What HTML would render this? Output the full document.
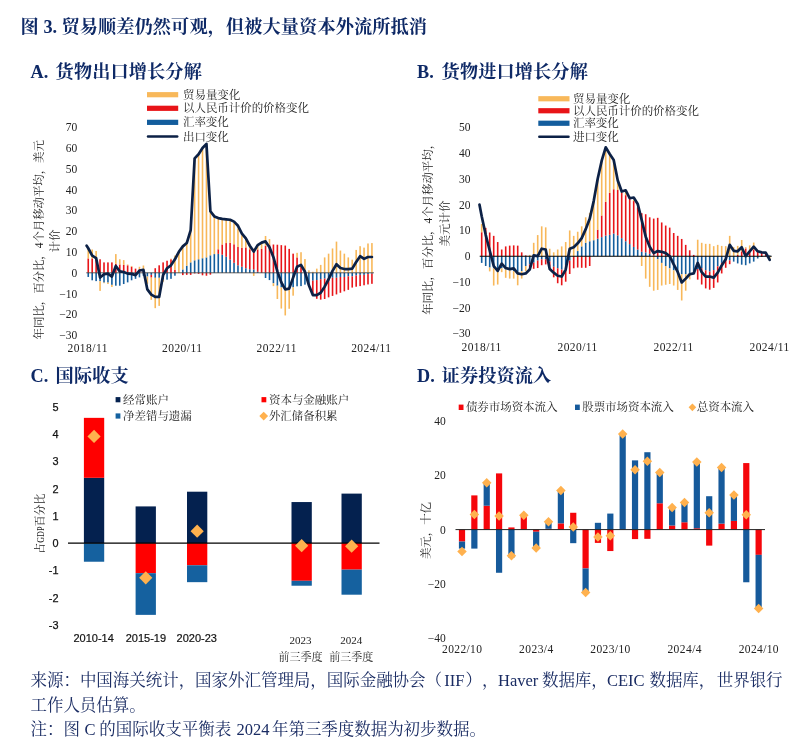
<!DOCTYPE html>
<html lang="zh"><head><meta charset="utf-8"><title>图 3</title>
<style>
html,body{margin:0;padding:0;background:#fff;}
body{width:800px;height:752px;overflow:hidden;font-family:"Liberation Serif",serif;}
svg{display:block;will-change:transform}
</style></head><body>
<svg width="800" height="752" viewBox="0 0 800 752">
<rect width="800" height="752" fill="#ffffff"/>
<text x="20.50" y="32.60" font-size="18.20" font-family="'Liberation Serif', 'Noto Serif CJK SC', serif" font-weight="bold" fill="#0e2966" textLength="18.20" lengthAdjust="spacing">图</text>
<text x="43.50" y="32.60" font-size="18.20" text-anchor="start" font-family="Liberation Serif, serif" font-weight="bold" fill="#0e2966" >3.</text>
<text x="61.40" y="32.60" font-size="18.20" font-family="'Liberation Serif', 'Noto Serif CJK SC', serif" font-weight="bold" fill="#0e2966" textLength="365.60" lengthAdjust="spacing">贸易顺差仍然可观，但被大量资本外流所抵消</text>
<text x="30.50" y="78.40" font-size="18.20" text-anchor="start" font-family="Liberation Serif, serif" font-weight="bold" fill="#0e2966" >A.</text>
<text x="55.60" y="78.40" font-size="18.20" font-family="'Liberation Serif', 'Noto Serif CJK SC', serif" font-weight="bold" fill="#0e2966" textLength="146.24" lengthAdjust="spacing">货物出口增长分解</text>
<text x="417.00" y="78.40" font-size="18.20" text-anchor="start" font-family="Liberation Serif, serif" font-weight="bold" fill="#0e2966" >B.</text>
<text x="441.60" y="78.40" font-size="18.20" font-family="'Liberation Serif', 'Noto Serif CJK SC', serif" font-weight="bold" fill="#0e2966" textLength="146.24" lengthAdjust="spacing">货物进口增长分解</text>
<text x="30.50" y="382.40" font-size="18.20" text-anchor="start" font-family="Liberation Serif, serif" font-weight="bold" fill="#0e2966" >C.</text>
<text x="55.60" y="382.40" font-size="18.20" font-family="'Liberation Serif', 'Noto Serif CJK SC', serif" font-weight="bold" fill="#0e2966" textLength="73.12" lengthAdjust="spacing">国际收支</text>
<text x="417.00" y="382.40" font-size="18.20" text-anchor="start" font-family="Liberation Serif, serif" font-weight="bold" fill="#0e2966" >D.</text>
<text x="441.60" y="382.40" font-size="18.20" font-family="'Liberation Serif', 'Noto Serif CJK SC', serif" font-weight="bold" fill="#0e2966" textLength="109.68" lengthAdjust="spacing">证券投资流入</text>
<g id="pa">
<rect x="87.45" y="272.80" width="1.60" height="4.16" fill="#135d9d"/>
<rect x="87.45" y="258.45" width="1.60" height="14.35" fill="#e81418"/>
<rect x="87.45" y="247.84" width="1.60" height="10.61" fill="#f8b85a"/>
<rect x="91.39" y="272.80" width="1.60" height="7.49" fill="#135d9d"/>
<rect x="91.39" y="258.45" width="1.60" height="14.35" fill="#e81418"/>
<rect x="91.39" y="249.50" width="1.60" height="8.94" fill="#f8b85a"/>
<rect x="95.33" y="272.80" width="1.60" height="8.32" fill="#135d9d"/>
<rect x="95.33" y="259.28" width="1.60" height="13.52" fill="#e81418"/>
<rect x="95.33" y="250.96" width="1.60" height="8.32" fill="#f8b85a"/>
<rect x="99.27" y="272.80" width="1.60" height="8.32" fill="#135d9d"/>
<rect x="99.27" y="259.28" width="1.60" height="13.52" fill="#e81418"/>
<rect x="99.27" y="281.12" width="1.60" height="9.78" fill="#f8b85a"/>
<rect x="103.21" y="272.80" width="1.60" height="9.78" fill="#135d9d"/>
<rect x="103.21" y="262.40" width="1.60" height="10.40" fill="#e81418"/>
<rect x="103.21" y="282.58" width="1.60" height="0.62" fill="#f8b85a"/>
<rect x="107.15" y="272.80" width="1.60" height="9.78" fill="#135d9d"/>
<rect x="107.15" y="262.40" width="1.60" height="10.40" fill="#e81418"/>
<rect x="107.15" y="282.58" width="1.60" height="1.46" fill="#f8b85a"/>
<rect x="111.09" y="272.80" width="1.60" height="12.06" fill="#135d9d"/>
<rect x="111.09" y="262.40" width="1.60" height="10.40" fill="#e81418"/>
<rect x="111.09" y="284.86" width="1.60" height="2.08" fill="#f8b85a"/>
<rect x="115.03" y="272.80" width="1.60" height="12.90" fill="#135d9d"/>
<rect x="115.03" y="263.86" width="1.60" height="8.94" fill="#e81418"/>
<rect x="115.03" y="254.08" width="1.60" height="9.78" fill="#f8b85a"/>
<rect x="118.97" y="272.80" width="1.60" height="12.90" fill="#135d9d"/>
<rect x="118.97" y="264.48" width="1.60" height="8.32" fill="#e81418"/>
<rect x="118.97" y="259.28" width="1.60" height="5.20" fill="#f8b85a"/>
<rect x="122.91" y="272.80" width="1.60" height="11.23" fill="#135d9d"/>
<rect x="122.91" y="264.90" width="1.60" height="7.90" fill="#e81418"/>
<rect x="122.91" y="260.11" width="1.60" height="4.78" fill="#f8b85a"/>
<rect x="126.85" y="272.80" width="1.60" height="9.57" fill="#135d9d"/>
<rect x="126.85" y="265.31" width="1.60" height="7.49" fill="#e81418"/>
<rect x="126.85" y="264.48" width="1.60" height="0.83" fill="#f8b85a"/>
<rect x="130.79" y="272.80" width="1.60" height="7.49" fill="#135d9d"/>
<rect x="130.79" y="266.77" width="1.60" height="6.03" fill="#e81418"/>
<rect x="130.79" y="265.94" width="1.60" height="0.83" fill="#f8b85a"/>
<rect x="134.73" y="272.80" width="1.60" height="6.03" fill="#135d9d"/>
<rect x="134.73" y="268.64" width="1.60" height="4.16" fill="#e81418"/>
<rect x="138.67" y="272.80" width="1.60" height="4.58" fill="#135d9d"/>
<rect x="138.67" y="269.26" width="1.60" height="3.54" fill="#e81418"/>
<rect x="138.67" y="266.77" width="1.60" height="2.50" fill="#f8b85a"/>
<rect x="142.61" y="272.80" width="1.60" height="2.91" fill="#135d9d"/>
<rect x="142.61" y="270.72" width="1.60" height="2.08" fill="#e81418"/>
<rect x="142.61" y="265.52" width="1.60" height="5.20" fill="#f8b85a"/>
<rect x="146.55" y="272.80" width="1.60" height="3.74" fill="#135d9d"/>
<rect x="146.55" y="276.54" width="1.60" height="7.28" fill="#f8b85a"/>
<rect x="150.49" y="272.80" width="1.60" height="2.08" fill="#135d9d"/>
<rect x="150.49" y="274.88" width="1.60" height="2.70" fill="#e81418"/>
<rect x="150.49" y="277.58" width="1.60" height="22.26" fill="#f8b85a"/>
<rect x="154.43" y="272.80" width="1.60" height="4.99" fill="#135d9d"/>
<rect x="154.43" y="268.22" width="1.60" height="4.58" fill="#e81418"/>
<rect x="154.43" y="277.79" width="1.60" height="30.37" fill="#f8b85a"/>
<rect x="158.37" y="272.80" width="1.60" height="4.99" fill="#135d9d"/>
<rect x="158.37" y="265.31" width="1.60" height="7.49" fill="#e81418"/>
<rect x="158.37" y="277.79" width="1.60" height="28.08" fill="#f8b85a"/>
<rect x="162.31" y="272.80" width="1.60" height="6.86" fill="#135d9d"/>
<rect x="162.31" y="262.40" width="1.60" height="10.40" fill="#e81418"/>
<rect x="162.31" y="279.66" width="1.60" height="2.08" fill="#f8b85a"/>
<rect x="166.25" y="272.80" width="1.60" height="6.86" fill="#135d9d"/>
<rect x="166.25" y="260.74" width="1.60" height="12.06" fill="#e81418"/>
<rect x="170.19" y="272.80" width="1.60" height="6.03" fill="#135d9d"/>
<rect x="170.19" y="259.28" width="1.60" height="13.52" fill="#e81418"/>
<rect x="170.19" y="258.66" width="1.60" height="0.62" fill="#f8b85a"/>
<rect x="174.13" y="272.80" width="1.60" height="2.91" fill="#135d9d"/>
<rect x="174.13" y="269.89" width="1.60" height="2.91" fill="#e81418"/>
<rect x="174.13" y="255.54" width="1.60" height="14.35" fill="#f8b85a"/>
<rect x="178.07" y="250.96" width="1.60" height="21.84" fill="#f8b85a"/>
<rect x="182.01" y="269.47" width="1.60" height="3.33" fill="#135d9d"/>
<rect x="182.01" y="272.80" width="1.60" height="2.29" fill="#e81418"/>
<rect x="182.01" y="246.59" width="1.60" height="22.88" fill="#f8b85a"/>
<rect x="185.95" y="265.73" width="1.60" height="7.07" fill="#135d9d"/>
<rect x="185.95" y="272.80" width="1.60" height="2.08" fill="#e81418"/>
<rect x="185.95" y="241.81" width="1.60" height="23.92" fill="#f8b85a"/>
<rect x="189.89" y="262.40" width="1.60" height="10.40" fill="#135d9d"/>
<rect x="189.89" y="272.80" width="1.60" height="2.08" fill="#e81418"/>
<rect x="189.89" y="229.12" width="1.60" height="33.28" fill="#f8b85a"/>
<rect x="193.83" y="260.32" width="1.60" height="12.48" fill="#135d9d"/>
<rect x="193.83" y="272.80" width="1.60" height="0.62" fill="#e81418"/>
<rect x="193.83" y="158.19" width="1.60" height="102.13" fill="#f8b85a"/>
<rect x="197.77" y="259.28" width="1.60" height="13.52" fill="#135d9d"/>
<rect x="197.77" y="272.80" width="1.60" height="1.04" fill="#e81418"/>
<rect x="197.77" y="154.86" width="1.60" height="104.42" fill="#f8b85a"/>
<rect x="201.71" y="258.24" width="1.60" height="14.56" fill="#135d9d"/>
<rect x="201.71" y="272.80" width="1.60" height="2.50" fill="#e81418"/>
<rect x="201.71" y="148.00" width="1.60" height="110.24" fill="#f8b85a"/>
<rect x="205.65" y="257.41" width="1.60" height="15.39" fill="#135d9d"/>
<rect x="205.65" y="272.80" width="1.60" height="2.91" fill="#e81418"/>
<rect x="205.65" y="144.05" width="1.60" height="113.36" fill="#f8b85a"/>
<rect x="209.59" y="255.33" width="1.60" height="17.47" fill="#135d9d"/>
<rect x="209.59" y="272.80" width="1.60" height="1.87" fill="#e81418"/>
<rect x="209.59" y="211.02" width="1.60" height="44.30" fill="#f8b85a"/>
<rect x="213.53" y="254.08" width="1.60" height="18.72" fill="#135d9d"/>
<rect x="213.53" y="216.02" width="1.60" height="38.06" fill="#f8b85a"/>
<rect x="217.47" y="253.87" width="1.60" height="18.93" fill="#135d9d"/>
<rect x="217.47" y="249.30" width="1.60" height="4.58" fill="#e81418"/>
<rect x="217.47" y="217.89" width="1.60" height="31.41" fill="#f8b85a"/>
<rect x="221.41" y="254.70" width="1.60" height="18.10" fill="#135d9d"/>
<rect x="221.41" y="244.51" width="1.60" height="10.19" fill="#e81418"/>
<rect x="221.41" y="218.93" width="1.60" height="25.58" fill="#f8b85a"/>
<rect x="225.35" y="256.78" width="1.60" height="16.02" fill="#135d9d"/>
<rect x="225.35" y="243.06" width="1.60" height="13.73" fill="#e81418"/>
<rect x="225.35" y="219.76" width="1.60" height="23.30" fill="#f8b85a"/>
<rect x="229.29" y="259.70" width="1.60" height="13.10" fill="#135d9d"/>
<rect x="229.29" y="242.85" width="1.60" height="16.85" fill="#e81418"/>
<rect x="229.29" y="220.38" width="1.60" height="22.46" fill="#f8b85a"/>
<rect x="233.23" y="262.82" width="1.60" height="9.98" fill="#135d9d"/>
<rect x="233.23" y="244.30" width="1.60" height="18.51" fill="#e81418"/>
<rect x="233.23" y="222.88" width="1.60" height="21.42" fill="#f8b85a"/>
<rect x="237.17" y="265.31" width="1.60" height="7.49" fill="#135d9d"/>
<rect x="237.17" y="247.01" width="1.60" height="18.30" fill="#e81418"/>
<rect x="237.17" y="228.50" width="1.60" height="18.51" fill="#f8b85a"/>
<rect x="241.11" y="266.77" width="1.60" height="6.03" fill="#135d9d"/>
<rect x="241.11" y="247.84" width="1.60" height="18.93" fill="#e81418"/>
<rect x="241.11" y="235.15" width="1.60" height="12.69" fill="#f8b85a"/>
<rect x="245.05" y="268.22" width="1.60" height="4.58" fill="#135d9d"/>
<rect x="245.05" y="247.42" width="1.60" height="20.80" fill="#e81418"/>
<rect x="245.05" y="240.14" width="1.60" height="7.28" fill="#f8b85a"/>
<rect x="248.99" y="269.26" width="1.60" height="3.54" fill="#135d9d"/>
<rect x="248.99" y="249.30" width="1.60" height="19.97" fill="#e81418"/>
<rect x="248.99" y="246.38" width="1.60" height="2.91" fill="#f8b85a"/>
<rect x="252.93" y="269.47" width="1.60" height="3.33" fill="#135d9d"/>
<rect x="252.93" y="248.88" width="1.60" height="20.59" fill="#e81418"/>
<rect x="252.93" y="272.80" width="1.60" height="3.12" fill="#f8b85a"/>
<rect x="256.87" y="271.76" width="1.60" height="1.04" fill="#135d9d"/>
<rect x="256.87" y="249.50" width="1.60" height="22.26" fill="#e81418"/>
<rect x="256.87" y="245.14" width="1.60" height="4.37" fill="#f8b85a"/>
<rect x="260.81" y="248.88" width="1.60" height="23.92" fill="#e81418"/>
<rect x="260.81" y="242.64" width="1.60" height="6.24" fill="#f8b85a"/>
<rect x="264.75" y="272.80" width="1.60" height="5.20" fill="#135d9d"/>
<rect x="264.75" y="245.76" width="1.60" height="27.04" fill="#e81418"/>
<rect x="264.75" y="235.98" width="1.60" height="9.78" fill="#f8b85a"/>
<rect x="268.69" y="272.80" width="1.60" height="7.28" fill="#135d9d"/>
<rect x="268.69" y="244.72" width="1.60" height="28.08" fill="#e81418"/>
<rect x="268.69" y="239.10" width="1.60" height="5.62" fill="#f8b85a"/>
<rect x="272.63" y="272.80" width="1.60" height="10.40" fill="#135d9d"/>
<rect x="272.63" y="244.51" width="1.60" height="28.29" fill="#e81418"/>
<rect x="272.63" y="283.20" width="1.60" height="2.91" fill="#f8b85a"/>
<rect x="276.57" y="272.80" width="1.60" height="12.90" fill="#135d9d"/>
<rect x="276.57" y="244.72" width="1.60" height="28.08" fill="#e81418"/>
<rect x="276.57" y="285.70" width="1.60" height="13.31" fill="#f8b85a"/>
<rect x="280.51" y="272.80" width="1.60" height="14.56" fill="#135d9d"/>
<rect x="280.51" y="245.14" width="1.60" height="27.66" fill="#e81418"/>
<rect x="280.51" y="287.36" width="1.60" height="21.22" fill="#f8b85a"/>
<rect x="284.45" y="272.80" width="1.60" height="15.60" fill="#135d9d"/>
<rect x="284.45" y="245.55" width="1.60" height="27.25" fill="#e81418"/>
<rect x="284.45" y="288.40" width="1.60" height="27.04" fill="#f8b85a"/>
<rect x="288.39" y="272.80" width="1.60" height="15.60" fill="#135d9d"/>
<rect x="288.39" y="248.88" width="1.60" height="23.92" fill="#e81418"/>
<rect x="288.39" y="288.40" width="1.60" height="20.38" fill="#f8b85a"/>
<rect x="292.33" y="272.80" width="1.60" height="14.56" fill="#135d9d"/>
<rect x="292.33" y="253.66" width="1.60" height="19.14" fill="#e81418"/>
<rect x="292.33" y="287.36" width="1.60" height="8.32" fill="#f8b85a"/>
<rect x="296.27" y="272.80" width="1.60" height="13.52" fill="#135d9d"/>
<rect x="296.27" y="257.41" width="1.60" height="15.39" fill="#e81418"/>
<rect x="296.27" y="252.83" width="1.60" height="4.58" fill="#f8b85a"/>
<rect x="300.21" y="272.80" width="1.60" height="13.31" fill="#135d9d"/>
<rect x="300.21" y="265.73" width="1.60" height="7.07" fill="#e81418"/>
<rect x="300.21" y="252.21" width="1.60" height="13.52" fill="#f8b85a"/>
<rect x="304.15" y="272.80" width="1.60" height="11.86" fill="#135d9d"/>
<rect x="304.15" y="270.30" width="1.60" height="2.50" fill="#e81418"/>
<rect x="304.15" y="259.07" width="1.60" height="11.23" fill="#f8b85a"/>
<rect x="308.09" y="272.80" width="1.60" height="10.19" fill="#135d9d"/>
<rect x="308.09" y="282.99" width="1.60" height="2.29" fill="#e81418"/>
<rect x="308.09" y="270.30" width="1.60" height="2.50" fill="#f8b85a"/>
<rect x="312.03" y="272.80" width="1.60" height="7.90" fill="#135d9d"/>
<rect x="312.03" y="280.70" width="1.60" height="14.98" fill="#e81418"/>
<rect x="312.03" y="271.76" width="1.60" height="1.04" fill="#f8b85a"/>
<rect x="315.97" y="272.80" width="1.60" height="7.28" fill="#135d9d"/>
<rect x="315.97" y="280.08" width="1.60" height="18.72" fill="#e81418"/>
<rect x="315.97" y="268.64" width="1.60" height="4.16" fill="#f8b85a"/>
<rect x="319.91" y="272.80" width="1.60" height="6.45" fill="#135d9d"/>
<rect x="319.91" y="279.25" width="1.60" height="20.38" fill="#e81418"/>
<rect x="319.91" y="264.90" width="1.60" height="7.90" fill="#f8b85a"/>
<rect x="323.85" y="272.80" width="1.60" height="5.82" fill="#135d9d"/>
<rect x="323.85" y="278.62" width="1.60" height="20.38" fill="#e81418"/>
<rect x="323.85" y="257.41" width="1.60" height="15.39" fill="#f8b85a"/>
<rect x="327.79" y="272.80" width="1.60" height="4.99" fill="#135d9d"/>
<rect x="327.79" y="277.79" width="1.60" height="19.55" fill="#e81418"/>
<rect x="327.79" y="253.66" width="1.60" height="19.14" fill="#f8b85a"/>
<rect x="331.73" y="272.80" width="1.60" height="4.99" fill="#135d9d"/>
<rect x="331.73" y="277.79" width="1.60" height="18.10" fill="#e81418"/>
<rect x="331.73" y="248.46" width="1.60" height="24.34" fill="#f8b85a"/>
<rect x="335.67" y="272.80" width="1.60" height="4.99" fill="#135d9d"/>
<rect x="335.67" y="277.79" width="1.60" height="16.64" fill="#e81418"/>
<rect x="335.67" y="241.60" width="1.60" height="31.20" fill="#f8b85a"/>
<rect x="339.61" y="272.80" width="1.60" height="4.16" fill="#135d9d"/>
<rect x="339.61" y="276.96" width="1.60" height="15.81" fill="#e81418"/>
<rect x="339.61" y="250.54" width="1.60" height="22.26" fill="#f8b85a"/>
<rect x="343.55" y="272.80" width="1.60" height="4.16" fill="#135d9d"/>
<rect x="343.55" y="276.96" width="1.60" height="14.35" fill="#e81418"/>
<rect x="343.55" y="253.66" width="1.60" height="19.14" fill="#f8b85a"/>
<rect x="347.49" y="272.80" width="1.60" height="3.54" fill="#135d9d"/>
<rect x="347.49" y="276.34" width="1.60" height="13.52" fill="#e81418"/>
<rect x="347.49" y="257.41" width="1.60" height="15.39" fill="#f8b85a"/>
<rect x="351.43" y="272.80" width="1.60" height="3.54" fill="#135d9d"/>
<rect x="351.43" y="276.34" width="1.60" height="11.23" fill="#e81418"/>
<rect x="351.43" y="259.70" width="1.60" height="13.10" fill="#f8b85a"/>
<rect x="355.37" y="272.80" width="1.60" height="2.70" fill="#135d9d"/>
<rect x="355.37" y="275.50" width="1.60" height="11.23" fill="#e81418"/>
<rect x="355.37" y="249.92" width="1.60" height="22.88" fill="#f8b85a"/>
<rect x="359.31" y="272.80" width="1.60" height="2.08" fill="#135d9d"/>
<rect x="359.31" y="274.88" width="1.60" height="11.23" fill="#e81418"/>
<rect x="359.31" y="246.18" width="1.60" height="26.62" fill="#f8b85a"/>
<rect x="363.25" y="272.80" width="1.60" height="2.08" fill="#135d9d"/>
<rect x="363.25" y="274.88" width="1.60" height="10.40" fill="#e81418"/>
<rect x="363.25" y="247.63" width="1.60" height="25.17" fill="#f8b85a"/>
<rect x="367.19" y="272.80" width="1.60" height="1.25" fill="#135d9d"/>
<rect x="367.19" y="274.05" width="1.60" height="10.40" fill="#e81418"/>
<rect x="367.19" y="243.47" width="1.60" height="29.33" fill="#f8b85a"/>
<rect x="371.13" y="272.80" width="1.60" height="0.83" fill="#135d9d"/>
<rect x="371.13" y="273.63" width="1.60" height="10.19" fill="#e81418"/>
<rect x="371.13" y="243.06" width="1.60" height="29.74" fill="#f8b85a"/>
<line x1="86.25" y1="272.80" x2="373.93" y2="272.80" stroke="#333" stroke-width="0.8"/>
<polyline fill="none" stroke="#0c2146" stroke-width="2.70" stroke-linejoin="round" stroke-linecap="round" points="86.65,245.76 88.25,248.26 92.19,255.54 96.13,258.03 100.07,277.58 104.01,274.26 107.95,273.63 111.89,276.54 115.83,265.94 119.77,271.34 123.71,271.97 127.65,273.63 131.59,273.84 135.53,275.09 139.47,270.51 143.41,269.89 147.35,289.44 151.29,294.64 155.23,296.93 159.17,296.93 163.11,275.09 167.05,268.22 170.99,265.31 174.93,259.28 178.87,251.79 182.81,246.38 186.75,243.06 190.69,230.16 194.63,158.40 198.57,154.24 202.51,148.00 206.45,143.84 210.39,211.23 214.33,216.43 218.27,218.10 222.21,218.93 226.15,219.34 230.09,219.76 234.03,221.63 237.97,225.79 241.91,233.70 245.85,238.48 249.79,245.76 253.73,251.58 257.67,245.14 261.61,242.64 265.55,241.39 269.49,247.22 273.43,257.20 277.37,271.34 281.31,282.37 285.25,289.44 289.19,288.61 293.13,277.58 297.07,266.77 301.01,264.90 304.95,271.76 308.89,285.28 312.83,295.06 316.77,295.06 320.71,292.77 324.65,286.74 328.59,279.25 332.53,270.93 336.47,264.27 340.41,268.02 344.35,269.06 348.29,269.06 352.23,268.64 356.17,261.98 360.11,256.16 364.05,258.86 367.99,256.99 371.93,256.99"/>
<text x="77.30" y="131.10" font-size="11.50" text-anchor="end" font-family="Liberation Serif, serif" font-weight="normal" fill="#222222" >70</text>
<text x="77.30" y="151.90" font-size="11.50" text-anchor="end" font-family="Liberation Serif, serif" font-weight="normal" fill="#222222" >60</text>
<text x="77.30" y="172.70" font-size="11.50" text-anchor="end" font-family="Liberation Serif, serif" font-weight="normal" fill="#222222" >50</text>
<text x="77.30" y="193.50" font-size="11.50" text-anchor="end" font-family="Liberation Serif, serif" font-weight="normal" fill="#222222" >40</text>
<text x="77.30" y="214.30" font-size="11.50" text-anchor="end" font-family="Liberation Serif, serif" font-weight="normal" fill="#222222" >30</text>
<text x="77.30" y="235.10" font-size="11.50" text-anchor="end" font-family="Liberation Serif, serif" font-weight="normal" fill="#222222" >20</text>
<text x="77.30" y="255.90" font-size="11.50" text-anchor="end" font-family="Liberation Serif, serif" font-weight="normal" fill="#222222" >10</text>
<text x="77.30" y="276.70" font-size="11.50" text-anchor="end" font-family="Liberation Serif, serif" font-weight="normal" fill="#222222" >0</text>
<text x="77.30" y="297.50" font-size="11.50" text-anchor="end" font-family="Liberation Serif, serif" font-weight="normal" fill="#222222" >−10</text>
<text x="77.30" y="318.30" font-size="11.50" text-anchor="end" font-family="Liberation Serif, serif" font-weight="normal" fill="#222222" >−20</text>
<text x="77.30" y="339.10" font-size="11.50" text-anchor="end" font-family="Liberation Serif, serif" font-weight="normal" fill="#222222" >−30</text>
<text x="87.45" y="352.00" font-size="11.50" text-anchor="middle" font-family="Liberation Serif, serif" font-weight="normal" fill="#222222"  textLength="39.90" lengthAdjust="spacing">2018/11</text>
<text x="182.01" y="352.00" font-size="11.50" text-anchor="middle" font-family="Liberation Serif, serif" font-weight="normal" fill="#222222"  textLength="39.90" lengthAdjust="spacing">2020/11</text>
<text x="276.57" y="352.00" font-size="11.50" text-anchor="middle" font-family="Liberation Serif, serif" font-weight="normal" fill="#222222"  textLength="39.90" lengthAdjust="spacing">2022/11</text>
<text x="371.13" y="352.00" font-size="11.50" text-anchor="middle" font-family="Liberation Serif, serif" font-weight="normal" fill="#222222"  textLength="39.90" lengthAdjust="spacing">2024/11</text>
<rect x="147.0" y="92.10" width="31.2" height="5.2" fill="#f8b85a"/>
<text x="183.00" y="98.80" font-size="11.50" font-family="'Liberation Serif', 'Noto Serif CJK SC', serif" font-weight="normal" fill="#222222" textLength="57.25" lengthAdjust="spacing">贸易量变化</text>
<rect x="147.0" y="105.70" width="31.2" height="5.2" fill="#e81418"/>
<text x="183.00" y="112.40" font-size="11.50" font-family="'Liberation Serif', 'Noto Serif CJK SC', serif" font-weight="normal" fill="#222222" textLength="125.95" lengthAdjust="spacing">以人民币计价的价格变化</text>
<rect x="147.0" y="119.75" width="31.2" height="5.2" fill="#135d9d"/>
<text x="183.00" y="126.45" font-size="11.50" font-family="'Liberation Serif', 'Noto Serif CJK SC', serif" font-weight="normal" fill="#222222" textLength="45.80" lengthAdjust="spacing">汇率变化</text>
<line x1="148.0" y1="136.5" x2="177.2" y2="136.5" stroke="#0c2146" stroke-width="2.5" stroke-linecap="round"/>
<text x="183.00" y="140.60" font-size="11.50" font-family="'Liberation Serif', 'Noto Serif CJK SC', serif" font-weight="normal" fill="#222222" textLength="45.80" lengthAdjust="spacing">出口变化</text>
<g transform="translate(43.00,239.70) rotate(-90)">
<text x="-99.70" y="0.00" font-size="11.50" font-family="'Liberation Serif', 'Noto Serif CJK SC', serif" font-weight="normal" fill="#222222" textLength="199.40" lengthAdjust="spacing">年同比，百分比，4个月移动平均，美元</text>
</g>
<g transform="translate(59.00,241.00) rotate(-90)">
<text x="-11.45" y="0.00" font-size="11.50" font-family="'Liberation Serif', 'Noto Serif CJK SC', serif" font-weight="normal" fill="#222222" textLength="22.90" lengthAdjust="spacing">计价</text>
</g>
</g>
<g id="pb">
<rect x="480.90" y="256.20" width="1.60" height="6.70" fill="#135d9d"/>
<rect x="480.90" y="232.25" width="1.60" height="23.95" fill="#e81418"/>
<rect x="480.90" y="224.01" width="1.60" height="8.24" fill="#f8b85a"/>
<rect x="484.90" y="256.20" width="1.60" height="9.79" fill="#135d9d"/>
<rect x="484.90" y="227.88" width="1.60" height="28.33" fill="#e81418"/>
<rect x="488.90" y="256.20" width="1.60" height="11.33" fill="#135d9d"/>
<rect x="488.90" y="232.51" width="1.60" height="23.69" fill="#e81418"/>
<rect x="488.90" y="267.53" width="1.60" height="3.86" fill="#f8b85a"/>
<rect x="492.90" y="256.20" width="1.60" height="12.10" fill="#135d9d"/>
<rect x="492.90" y="235.86" width="1.60" height="20.34" fill="#e81418"/>
<rect x="492.90" y="268.30" width="1.60" height="17.25" fill="#f8b85a"/>
<rect x="496.90" y="256.20" width="1.60" height="13.39" fill="#135d9d"/>
<rect x="496.90" y="242.04" width="1.60" height="14.16" fill="#e81418"/>
<rect x="496.90" y="269.59" width="1.60" height="14.94" fill="#f8b85a"/>
<rect x="500.90" y="256.20" width="1.60" height="12.10" fill="#135d9d"/>
<rect x="500.90" y="249.50" width="1.60" height="6.70" fill="#e81418"/>
<rect x="500.90" y="268.30" width="1.60" height="3.86" fill="#f8b85a"/>
<rect x="504.90" y="256.20" width="1.60" height="13.39" fill="#135d9d"/>
<rect x="504.90" y="246.41" width="1.60" height="9.79" fill="#e81418"/>
<rect x="504.90" y="269.59" width="1.60" height="8.24" fill="#f8b85a"/>
<rect x="508.90" y="256.20" width="1.60" height="14.16" fill="#135d9d"/>
<rect x="508.90" y="245.64" width="1.60" height="10.56" fill="#e81418"/>
<rect x="508.90" y="270.36" width="1.60" height="8.24" fill="#f8b85a"/>
<rect x="512.90" y="256.20" width="1.60" height="14.94" fill="#135d9d"/>
<rect x="512.90" y="245.38" width="1.60" height="10.82" fill="#e81418"/>
<rect x="512.90" y="271.13" width="1.60" height="7.47" fill="#f8b85a"/>
<rect x="516.90" y="256.20" width="1.60" height="15.71" fill="#135d9d"/>
<rect x="516.90" y="245.64" width="1.60" height="10.56" fill="#e81418"/>
<rect x="516.90" y="271.91" width="1.60" height="13.39" fill="#f8b85a"/>
<rect x="520.90" y="256.20" width="1.60" height="14.94" fill="#135d9d"/>
<rect x="520.90" y="252.34" width="1.60" height="3.86" fill="#e81418"/>
<rect x="520.90" y="271.13" width="1.60" height="7.47" fill="#f8b85a"/>
<rect x="524.90" y="256.20" width="1.60" height="9.79" fill="#135d9d"/>
<rect x="524.90" y="255.43" width="1.60" height="0.77" fill="#e81418"/>
<rect x="524.90" y="265.99" width="1.60" height="5.15" fill="#f8b85a"/>
<rect x="528.90" y="256.20" width="1.60" height="8.24" fill="#135d9d"/>
<rect x="528.90" y="264.44" width="1.60" height="2.58" fill="#e81418"/>
<rect x="528.90" y="254.91" width="1.60" height="1.29" fill="#f8b85a"/>
<rect x="532.90" y="256.20" width="1.60" height="6.44" fill="#135d9d"/>
<rect x="532.90" y="262.64" width="1.60" height="6.18" fill="#e81418"/>
<rect x="532.90" y="242.81" width="1.60" height="13.39" fill="#f8b85a"/>
<rect x="536.90" y="256.20" width="1.60" height="4.38" fill="#135d9d"/>
<rect x="536.90" y="260.58" width="1.60" height="7.47" fill="#e81418"/>
<rect x="536.90" y="235.08" width="1.60" height="21.11" fill="#f8b85a"/>
<rect x="540.90" y="256.20" width="1.60" height="3.09" fill="#135d9d"/>
<rect x="540.90" y="259.29" width="1.60" height="5.92" fill="#e81418"/>
<rect x="540.90" y="226.33" width="1.60" height="29.87" fill="#f8b85a"/>
<rect x="544.90" y="256.20" width="1.60" height="3.09" fill="#135d9d"/>
<rect x="544.90" y="259.29" width="1.60" height="5.15" fill="#e81418"/>
<rect x="544.90" y="227.36" width="1.60" height="28.84" fill="#f8b85a"/>
<rect x="548.90" y="256.20" width="1.60" height="5.15" fill="#135d9d"/>
<rect x="548.90" y="261.35" width="1.60" height="5.15" fill="#e81418"/>
<rect x="548.90" y="248.73" width="1.60" height="7.47" fill="#f8b85a"/>
<rect x="552.90" y="256.20" width="1.60" height="10.56" fill="#135d9d"/>
<rect x="552.90" y="266.76" width="1.60" height="10.56" fill="#e81418"/>
<rect x="552.90" y="252.34" width="1.60" height="3.86" fill="#f8b85a"/>
<rect x="556.90" y="256.20" width="1.60" height="12.10" fill="#135d9d"/>
<rect x="556.90" y="268.30" width="1.60" height="14.94" fill="#e81418"/>
<rect x="556.90" y="249.50" width="1.60" height="6.70" fill="#f8b85a"/>
<rect x="560.90" y="256.20" width="1.60" height="13.39" fill="#135d9d"/>
<rect x="560.90" y="269.59" width="1.60" height="15.71" fill="#e81418"/>
<rect x="560.90" y="246.41" width="1.60" height="9.79" fill="#f8b85a"/>
<rect x="564.90" y="256.20" width="1.60" height="9.01" fill="#135d9d"/>
<rect x="564.90" y="265.21" width="1.60" height="16.48" fill="#e81418"/>
<rect x="564.90" y="242.04" width="1.60" height="14.16" fill="#f8b85a"/>
<rect x="568.90" y="256.20" width="1.60" height="4.38" fill="#135d9d"/>
<rect x="568.90" y="260.58" width="1.60" height="13.39" fill="#e81418"/>
<rect x="568.90" y="230.45" width="1.60" height="25.75" fill="#f8b85a"/>
<rect x="572.90" y="256.20" width="1.60" height="12.10" fill="#e81418"/>
<rect x="572.90" y="235.86" width="1.60" height="20.34" fill="#f8b85a"/>
<rect x="576.90" y="251.05" width="1.60" height="5.15" fill="#135d9d"/>
<rect x="576.90" y="256.20" width="1.60" height="11.33" fill="#e81418"/>
<rect x="576.90" y="231.74" width="1.60" height="19.31" fill="#f8b85a"/>
<rect x="580.90" y="246.41" width="1.60" height="9.79" fill="#135d9d"/>
<rect x="580.90" y="256.20" width="1.60" height="11.59" fill="#e81418"/>
<rect x="580.90" y="226.33" width="1.60" height="20.09" fill="#f8b85a"/>
<rect x="584.90" y="242.81" width="1.60" height="13.39" fill="#135d9d"/>
<rect x="584.90" y="256.20" width="1.60" height="11.59" fill="#e81418"/>
<rect x="584.90" y="217.32" width="1.60" height="25.49" fill="#f8b85a"/>
<rect x="588.90" y="241.26" width="1.60" height="14.94" fill="#135d9d"/>
<rect x="588.90" y="256.20" width="1.60" height="9.79" fill="#e81418"/>
<rect x="588.90" y="212.94" width="1.60" height="28.33" fill="#f8b85a"/>
<rect x="592.90" y="240.23" width="1.60" height="15.97" fill="#135d9d"/>
<rect x="592.90" y="201.09" width="1.60" height="39.14" fill="#f8b85a"/>
<rect x="596.90" y="238.69" width="1.60" height="17.51" fill="#135d9d"/>
<rect x="596.90" y="229.68" width="1.60" height="9.01" fill="#e81418"/>
<rect x="596.90" y="178.95" width="1.60" height="50.73" fill="#f8b85a"/>
<rect x="600.90" y="237.14" width="1.60" height="19.06" fill="#135d9d"/>
<rect x="600.90" y="215.51" width="1.60" height="21.63" fill="#e81418"/>
<rect x="600.90" y="160.92" width="1.60" height="54.59" fill="#f8b85a"/>
<rect x="604.90" y="235.60" width="1.60" height="20.60" fill="#135d9d"/>
<rect x="604.90" y="201.87" width="1.60" height="33.73" fill="#e81418"/>
<rect x="604.90" y="150.37" width="1.60" height="51.50" fill="#f8b85a"/>
<rect x="608.90" y="234.83" width="1.60" height="21.37" fill="#135d9d"/>
<rect x="608.90" y="192.85" width="1.60" height="41.97" fill="#e81418"/>
<rect x="608.90" y="154.74" width="1.60" height="38.11" fill="#f8b85a"/>
<rect x="612.90" y="233.54" width="1.60" height="22.66" fill="#135d9d"/>
<rect x="612.90" y="189.25" width="1.60" height="44.29" fill="#e81418"/>
<rect x="612.90" y="160.92" width="1.60" height="28.33" fill="#f8b85a"/>
<rect x="616.90" y="235.34" width="1.60" height="20.86" fill="#135d9d"/>
<rect x="616.90" y="190.02" width="1.60" height="45.32" fill="#e81418"/>
<rect x="616.90" y="180.24" width="1.60" height="9.79" fill="#f8b85a"/>
<rect x="620.90" y="238.17" width="1.60" height="18.03" fill="#135d9d"/>
<rect x="620.90" y="192.85" width="1.60" height="45.32" fill="#e81418"/>
<rect x="620.90" y="191.57" width="1.60" height="1.29" fill="#f8b85a"/>
<rect x="624.90" y="241.26" width="1.60" height="14.94" fill="#135d9d"/>
<rect x="624.90" y="195.17" width="1.60" height="46.09" fill="#e81418"/>
<rect x="624.90" y="190.28" width="1.60" height="4.89" fill="#f8b85a"/>
<rect x="628.90" y="244.10" width="1.60" height="12.10" fill="#135d9d"/>
<rect x="628.90" y="198.26" width="1.60" height="45.84" fill="#e81418"/>
<rect x="632.90" y="246.93" width="1.60" height="9.27" fill="#135d9d"/>
<rect x="632.90" y="201.09" width="1.60" height="45.84" fill="#e81418"/>
<rect x="632.90" y="199.81" width="1.60" height="1.29" fill="#f8b85a"/>
<rect x="636.90" y="249.50" width="1.60" height="6.70" fill="#135d9d"/>
<rect x="636.90" y="207.27" width="1.60" height="42.23" fill="#e81418"/>
<rect x="640.90" y="251.82" width="1.60" height="4.38" fill="#135d9d"/>
<rect x="640.90" y="213.20" width="1.60" height="38.62" fill="#e81418"/>
<rect x="640.90" y="256.20" width="1.60" height="9.79" fill="#f8b85a"/>
<rect x="644.90" y="252.34" width="1.60" height="3.86" fill="#135d9d"/>
<rect x="644.90" y="214.23" width="1.60" height="38.11" fill="#e81418"/>
<rect x="644.90" y="256.20" width="1.60" height="22.40" fill="#f8b85a"/>
<rect x="648.90" y="253.88" width="1.60" height="2.32" fill="#135d9d"/>
<rect x="648.90" y="217.32" width="1.60" height="36.56" fill="#e81418"/>
<rect x="648.90" y="256.20" width="1.60" height="30.64" fill="#f8b85a"/>
<rect x="652.90" y="255.43" width="1.60" height="0.77" fill="#135d9d"/>
<rect x="652.90" y="218.60" width="1.60" height="36.82" fill="#e81418"/>
<rect x="652.90" y="256.20" width="1.60" height="34.51" fill="#f8b85a"/>
<rect x="656.90" y="256.20" width="1.60" height="3.09" fill="#135d9d"/>
<rect x="656.90" y="217.83" width="1.60" height="38.37" fill="#e81418"/>
<rect x="656.90" y="259.29" width="1.60" height="30.64" fill="#f8b85a"/>
<rect x="660.90" y="256.20" width="1.60" height="6.70" fill="#135d9d"/>
<rect x="660.90" y="222.47" width="1.60" height="33.73" fill="#e81418"/>
<rect x="660.90" y="262.89" width="1.60" height="22.66" fill="#f8b85a"/>
<rect x="664.90" y="256.20" width="1.60" height="9.79" fill="#135d9d"/>
<rect x="664.90" y="225.56" width="1.60" height="30.64" fill="#e81418"/>
<rect x="664.90" y="265.99" width="1.60" height="18.80" fill="#f8b85a"/>
<rect x="668.90" y="256.20" width="1.60" height="12.10" fill="#135d9d"/>
<rect x="668.90" y="227.62" width="1.60" height="28.58" fill="#e81418"/>
<rect x="668.90" y="268.30" width="1.60" height="15.71" fill="#f8b85a"/>
<rect x="672.90" y="256.20" width="1.60" height="14.16" fill="#135d9d"/>
<rect x="672.90" y="233.02" width="1.60" height="23.18" fill="#e81418"/>
<rect x="672.90" y="270.36" width="1.60" height="15.19" fill="#f8b85a"/>
<rect x="676.90" y="256.20" width="1.60" height="16.48" fill="#135d9d"/>
<rect x="676.90" y="235.86" width="1.60" height="20.34" fill="#e81418"/>
<rect x="676.90" y="272.68" width="1.60" height="17.25" fill="#f8b85a"/>
<rect x="680.90" y="256.20" width="1.60" height="18.03" fill="#135d9d"/>
<rect x="680.90" y="238.95" width="1.60" height="17.25" fill="#e81418"/>
<rect x="680.90" y="274.22" width="1.60" height="26.27" fill="#f8b85a"/>
<rect x="684.90" y="256.20" width="1.60" height="18.03" fill="#135d9d"/>
<rect x="684.90" y="244.87" width="1.60" height="11.33" fill="#e81418"/>
<rect x="684.90" y="274.22" width="1.60" height="16.48" fill="#f8b85a"/>
<rect x="688.90" y="256.20" width="1.60" height="17.25" fill="#135d9d"/>
<rect x="688.90" y="250.28" width="1.60" height="5.92" fill="#e81418"/>
<rect x="688.90" y="273.45" width="1.60" height="5.92" fill="#f8b85a"/>
<rect x="692.90" y="256.20" width="1.60" height="15.71" fill="#135d9d"/>
<rect x="692.90" y="254.91" width="1.60" height="1.29" fill="#e81418"/>
<rect x="692.90" y="271.91" width="1.60" height="1.29" fill="#f8b85a"/>
<rect x="696.90" y="256.20" width="1.60" height="12.88" fill="#135d9d"/>
<rect x="696.90" y="269.07" width="1.60" height="10.56" fill="#e81418"/>
<rect x="696.90" y="239.72" width="1.60" height="16.48" fill="#f8b85a"/>
<rect x="700.90" y="256.20" width="1.60" height="12.10" fill="#135d9d"/>
<rect x="700.90" y="268.30" width="1.60" height="16.22" fill="#e81418"/>
<rect x="700.90" y="242.81" width="1.60" height="13.39" fill="#f8b85a"/>
<rect x="704.90" y="256.20" width="1.60" height="14.16" fill="#135d9d"/>
<rect x="704.90" y="270.36" width="1.60" height="18.03" fill="#e81418"/>
<rect x="704.90" y="243.84" width="1.60" height="12.36" fill="#f8b85a"/>
<rect x="708.90" y="256.20" width="1.60" height="15.45" fill="#135d9d"/>
<rect x="708.90" y="271.65" width="1.60" height="18.03" fill="#e81418"/>
<rect x="708.90" y="243.84" width="1.60" height="12.36" fill="#f8b85a"/>
<rect x="712.90" y="256.20" width="1.60" height="13.91" fill="#135d9d"/>
<rect x="712.90" y="270.11" width="1.60" height="17.77" fill="#e81418"/>
<rect x="712.90" y="246.16" width="1.60" height="10.04" fill="#f8b85a"/>
<rect x="716.90" y="256.20" width="1.60" height="10.04" fill="#135d9d"/>
<rect x="716.90" y="266.24" width="1.60" height="16.22" fill="#e81418"/>
<rect x="716.90" y="244.87" width="1.60" height="11.33" fill="#f8b85a"/>
<rect x="720.90" y="256.20" width="1.60" height="6.70" fill="#135d9d"/>
<rect x="720.90" y="262.89" width="1.60" height="10.56" fill="#e81418"/>
<rect x="720.90" y="245.90" width="1.60" height="10.30" fill="#f8b85a"/>
<rect x="724.90" y="256.20" width="1.60" height="3.86" fill="#135d9d"/>
<rect x="724.90" y="260.06" width="1.60" height="7.73" fill="#e81418"/>
<rect x="724.90" y="246.16" width="1.60" height="10.04" fill="#f8b85a"/>
<rect x="728.90" y="256.20" width="1.60" height="4.12" fill="#135d9d"/>
<rect x="728.90" y="260.32" width="1.60" height="3.86" fill="#e81418"/>
<rect x="728.90" y="235.86" width="1.60" height="20.34" fill="#f8b85a"/>
<rect x="732.90" y="256.20" width="1.60" height="5.41" fill="#135d9d"/>
<rect x="732.90" y="247.19" width="1.60" height="9.01" fill="#f8b85a"/>
<rect x="736.90" y="256.20" width="1.60" height="7.21" fill="#135d9d"/>
<rect x="736.90" y="254.91" width="1.60" height="1.29" fill="#e81418"/>
<rect x="736.90" y="245.90" width="1.60" height="9.01" fill="#f8b85a"/>
<rect x="740.90" y="256.20" width="1.60" height="8.50" fill="#135d9d"/>
<rect x="740.90" y="251.31" width="1.60" height="4.89" fill="#e81418"/>
<rect x="740.90" y="239.98" width="1.60" height="11.33" fill="#f8b85a"/>
<rect x="744.90" y="256.20" width="1.60" height="9.01" fill="#135d9d"/>
<rect x="744.90" y="248.47" width="1.60" height="7.73" fill="#e81418"/>
<rect x="744.90" y="247.19" width="1.60" height="1.29" fill="#f8b85a"/>
<rect x="748.90" y="256.20" width="1.60" height="7.21" fill="#135d9d"/>
<rect x="748.90" y="250.79" width="1.60" height="5.41" fill="#e81418"/>
<rect x="748.90" y="245.38" width="1.60" height="5.41" fill="#f8b85a"/>
<rect x="752.90" y="256.20" width="1.60" height="5.41" fill="#135d9d"/>
<rect x="752.90" y="249.50" width="1.60" height="6.70" fill="#e81418"/>
<rect x="752.90" y="242.55" width="1.60" height="6.95" fill="#f8b85a"/>
<rect x="756.90" y="256.20" width="1.60" height="2.32" fill="#135d9d"/>
<rect x="756.90" y="251.31" width="1.60" height="4.89" fill="#e81418"/>
<rect x="756.90" y="250.02" width="1.60" height="1.29" fill="#f8b85a"/>
<rect x="760.90" y="256.20" width="1.60" height="0.77" fill="#135d9d"/>
<rect x="760.90" y="252.59" width="1.60" height="3.60" fill="#e81418"/>
<rect x="760.90" y="251.82" width="1.60" height="0.77" fill="#f8b85a"/>
<rect x="764.90" y="253.11" width="1.60" height="3.09" fill="#e81418"/>
<rect x="764.90" y="252.59" width="1.60" height="0.52" fill="#f8b85a"/>
<rect x="768.90" y="255.43" width="1.60" height="0.77" fill="#135d9d"/>
<rect x="768.90" y="256.20" width="1.60" height="2.58" fill="#f8b85a"/>
<line x1="479.70" y1="256.20" x2="771.70" y2="256.20" stroke="#000" stroke-width="1.1"/>
<polyline fill="none" stroke="#0c2146" stroke-width="2.70" stroke-linejoin="round" stroke-linecap="round" points="479.50,204.70 481.70,216.29 485.70,234.83 489.70,250.53 493.70,265.99 497.70,270.88 501.70,263.67 505.70,268.05 509.70,269.07 513.70,268.30 517.70,273.45 521.70,274.22 525.70,273.45 529.70,269.59 533.70,255.43 537.70,256.20 541.70,248.73 545.70,249.50 549.70,269.07 553.70,272.68 557.70,275.77 561.70,276.54 565.70,269.59 569.70,248.73 573.70,247.19 577.70,243.32 581.70,238.17 585.70,229.16 589.70,218.86 593.70,201.09 597.70,178.69 601.70,160.67 605.70,147.28 609.70,153.97 613.70,159.89 617.70,180.24 621.70,191.57 625.70,190.28 629.70,198.26 633.70,197.49 637.70,203.93 641.70,220.15 645.70,236.63 649.70,246.67 653.70,253.11 657.70,251.05 661.70,251.82 665.70,253.11 669.70,256.20 673.70,264.44 677.70,271.91 681.70,282.46 685.70,278.60 689.70,274.22 693.70,273.45 697.70,262.89 701.70,272.16 705.70,276.54 709.70,276.54 713.70,277.57 717.70,272.68 721.70,265.47 725.70,259.29 729.70,244.87 733.70,250.79 737.70,251.31 741.70,247.19 745.70,256.20 749.70,251.31 753.70,246.67 757.70,251.31 761.70,252.34 765.70,252.59 769.70,259.81"/>
<text x="470.50" y="131.35" font-size="11.50" text-anchor="end" font-family="Liberation Serif, serif" font-weight="normal" fill="#222222" >50</text>
<text x="470.50" y="157.10" font-size="11.50" text-anchor="end" font-family="Liberation Serif, serif" font-weight="normal" fill="#222222" >40</text>
<text x="470.50" y="182.85" font-size="11.50" text-anchor="end" font-family="Liberation Serif, serif" font-weight="normal" fill="#222222" >30</text>
<text x="470.50" y="208.60" font-size="11.50" text-anchor="end" font-family="Liberation Serif, serif" font-weight="normal" fill="#222222" >20</text>
<text x="470.50" y="234.35" font-size="11.50" text-anchor="end" font-family="Liberation Serif, serif" font-weight="normal" fill="#222222" >10</text>
<text x="470.50" y="260.10" font-size="11.50" text-anchor="end" font-family="Liberation Serif, serif" font-weight="normal" fill="#222222" >0</text>
<text x="470.50" y="285.85" font-size="11.50" text-anchor="end" font-family="Liberation Serif, serif" font-weight="normal" fill="#222222" >−10</text>
<text x="470.50" y="311.60" font-size="11.50" text-anchor="end" font-family="Liberation Serif, serif" font-weight="normal" fill="#222222" >−20</text>
<text x="470.50" y="337.35" font-size="11.50" text-anchor="end" font-family="Liberation Serif, serif" font-weight="normal" fill="#222222" >−30</text>
<text x="481.40" y="350.70" font-size="11.50" text-anchor="middle" font-family="Liberation Serif, serif" font-weight="normal" fill="#222222"  textLength="39.90" lengthAdjust="spacing">2018/11</text>
<text x="577.40" y="350.70" font-size="11.50" text-anchor="middle" font-family="Liberation Serif, serif" font-weight="normal" fill="#222222"  textLength="39.90" lengthAdjust="spacing">2020/11</text>
<text x="673.40" y="350.70" font-size="11.50" text-anchor="middle" font-family="Liberation Serif, serif" font-weight="normal" fill="#222222"  textLength="39.90" lengthAdjust="spacing">2022/11</text>
<text x="769.40" y="350.70" font-size="11.50" text-anchor="middle" font-family="Liberation Serif, serif" font-weight="normal" fill="#222222"  textLength="39.90" lengthAdjust="spacing">2024/11</text>
<rect x="538.3" y="96.15" width="31.2" height="5.2" fill="#f8b85a"/>
<text x="573.00" y="102.85" font-size="11.50" font-family="'Liberation Serif', 'Noto Serif CJK SC', serif" font-weight="normal" fill="#222222" textLength="57.25" lengthAdjust="spacing">贸易量变化</text>
<rect x="538.3" y="108.15" width="31.2" height="5.2" fill="#e81418"/>
<text x="573.00" y="114.85" font-size="11.50" font-family="'Liberation Serif', 'Noto Serif CJK SC', serif" font-weight="normal" fill="#222222" textLength="125.95" lengthAdjust="spacing">以人民币计价的价格变化</text>
<rect x="538.3" y="120.65" width="31.2" height="5.2" fill="#135d9d"/>
<text x="573.00" y="127.35" font-size="11.50" font-family="'Liberation Serif', 'Noto Serif CJK SC', serif" font-weight="normal" fill="#222222" textLength="45.80" lengthAdjust="spacing">汇率变化</text>
<line x1="539.3" y1="136.75" x2="568.5" y2="136.75" stroke="#0c2146" stroke-width="2.5" stroke-linecap="round"/>
<text x="573.00" y="140.85" font-size="11.50" font-family="'Liberation Serif', 'Noto Serif CJK SC', serif" font-weight="normal" fill="#222222" textLength="45.80" lengthAdjust="spacing">进口变化</text>
<g transform="translate(432.30,226.30) rotate(-90)">
<text x="-88.50" y="0.00" font-size="11.50" font-family="'Liberation Serif', 'Noto Serif CJK SC', serif" font-weight="normal" fill="#222222" textLength="177.00" lengthAdjust="spacing">年同比，百分比，4个月移动平均，</text>
</g>
<g transform="translate(448.90,223.50) rotate(-90)">
<text x="-22.90" y="0.00" font-size="11.50" font-family="'Liberation Serif', 'Noto Serif CJK SC', serif" font-weight="normal" fill="#222222" textLength="45.80" lengthAdjust="spacing">美元计价</text>
</g>
</g>
<g id="pc">
<rect x="83.90" y="477.80" width="20.30" height="65.40" fill="#04214f"/>
<rect x="83.90" y="417.85" width="20.30" height="59.95" fill="#ff0000"/>
<rect x="83.90" y="543.20" width="20.30" height="18.53" fill="#15619f"/>
<rect x="135.60" y="506.41" width="20.30" height="36.79" fill="#04214f"/>
<rect x="135.60" y="543.20" width="20.30" height="29.98" fill="#ff0000"/>
<rect x="135.60" y="573.18" width="20.30" height="41.69" fill="#15619f"/>
<rect x="187.00" y="491.70" width="20.30" height="51.50" fill="#04214f"/>
<rect x="187.00" y="543.20" width="20.30" height="22.07" fill="#ff0000"/>
<rect x="187.00" y="565.27" width="20.30" height="16.89" fill="#15619f"/>
<rect x="291.50" y="502.05" width="20.30" height="41.15" fill="#04214f"/>
<rect x="291.50" y="543.20" width="20.30" height="37.60" fill="#ff0000"/>
<rect x="291.50" y="580.81" width="20.30" height="4.91" fill="#15619f"/>
<rect x="341.50" y="493.61" width="20.30" height="49.59" fill="#04214f"/>
<rect x="341.50" y="543.20" width="20.30" height="26.43" fill="#ff0000"/>
<rect x="341.50" y="569.63" width="20.30" height="25.07" fill="#15619f"/>
<line x1="68" y1="543.20" x2="379.5" y2="543.20" stroke="#000" stroke-width="1.2"/>
<polygon points="94.05,429.78 100.65,436.38 94.05,442.98 87.45,436.38" fill="#ffb14e"/>
<polygon points="145.75,571.21 152.35,577.81 145.75,584.41 139.15,577.81" fill="#ffb14e"/>
<polygon points="197.15,524.61 203.75,531.21 197.15,537.81 190.55,531.21" fill="#ffb14e"/>
<polygon points="301.65,539.05 308.25,545.65 301.65,552.25 295.05,545.65" fill="#ffb14e"/>
<polygon points="351.65,539.60 358.25,546.20 351.65,552.80 345.05,546.20" fill="#ffb14e"/>
<text x="58.50" y="410.85" font-size="10.90" text-anchor="end" font-family="Liberation Sans, sans-serif" font-weight="normal" fill="#111" stroke="#111" stroke-width="0.25">5</text>
<text x="58.50" y="438.10" font-size="10.90" text-anchor="end" font-family="Liberation Sans, sans-serif" font-weight="normal" fill="#111" stroke="#111" stroke-width="0.25">4</text>
<text x="58.50" y="465.35" font-size="10.90" text-anchor="end" font-family="Liberation Sans, sans-serif" font-weight="normal" fill="#111" stroke="#111" stroke-width="0.25">3</text>
<text x="58.50" y="492.60" font-size="10.90" text-anchor="end" font-family="Liberation Sans, sans-serif" font-weight="normal" fill="#111" stroke="#111" stroke-width="0.25">2</text>
<text x="58.50" y="519.85" font-size="10.90" text-anchor="end" font-family="Liberation Sans, sans-serif" font-weight="normal" fill="#111" stroke="#111" stroke-width="0.25">1</text>
<text x="58.50" y="547.10" font-size="10.90" text-anchor="end" font-family="Liberation Sans, sans-serif" font-weight="normal" fill="#111" stroke="#111" stroke-width="0.25">0</text>
<text x="58.50" y="574.35" font-size="10.90" text-anchor="end" font-family="Liberation Sans, sans-serif" font-weight="normal" fill="#111" stroke="#111" stroke-width="0.25">-1</text>
<text x="58.50" y="601.60" font-size="10.90" text-anchor="end" font-family="Liberation Sans, sans-serif" font-weight="normal" fill="#111" stroke="#111" stroke-width="0.25">-2</text>
<text x="58.50" y="628.85" font-size="10.90" text-anchor="end" font-family="Liberation Sans, sans-serif" font-weight="normal" fill="#111" stroke="#111" stroke-width="0.25">-3</text>
<text x="93.60" y="641.80" font-size="11.00" text-anchor="middle" font-family="Liberation Sans, sans-serif" font-weight="normal" fill="#111" stroke="#111" stroke-width="0.2">2010-14</text>
<text x="145.90" y="641.80" font-size="11.00" text-anchor="middle" font-family="Liberation Sans, sans-serif" font-weight="normal" fill="#111" stroke="#111" stroke-width="0.2">2015-19</text>
<text x="196.80" y="641.80" font-size="11.00" text-anchor="middle" font-family="Liberation Sans, sans-serif" font-weight="normal" fill="#111" stroke="#111" stroke-width="0.2">2020-23</text>
<text x="300.50" y="644.00" font-size="11.00" text-anchor="middle" font-family="Liberation Serif, serif" font-weight="normal" fill="#222222"  textLength="22.00" lengthAdjust="spacing">2023</text>
<text x="278.50" y="661.00" font-size="11.00" font-family="'Liberation Serif', 'Noto Serif CJK SC', serif" font-weight="normal" fill="#222222" textLength="44.00" lengthAdjust="spacing">前三季度</text>
<text x="351.30" y="644.00" font-size="11.00" text-anchor="middle" font-family="Liberation Serif, serif" font-weight="normal" fill="#222222"  textLength="22.00" lengthAdjust="spacing">2024</text>
<text x="329.30" y="661.00" font-size="11.00" font-family="'Liberation Serif', 'Noto Serif CJK SC', serif" font-weight="normal" fill="#222222" textLength="44.00" lengthAdjust="spacing">前三季度</text>
<rect x="115.6" y="397.1" width="4.8" height="5.2" fill="#04214f"/>
<text x="123.10" y="403.80" font-size="11.50" font-family="'Liberation Serif', 'Noto Serif CJK SC', serif" font-weight="normal" fill="#222222" textLength="45.80" lengthAdjust="spacing">经常账户</text>
<rect x="115.6" y="413.4" width="4.8" height="5.2" fill="#15619f"/>
<text x="123.10" y="420.10" font-size="11.50" font-family="'Liberation Serif', 'Noto Serif CJK SC', serif" font-weight="normal" fill="#222222" textLength="68.70" lengthAdjust="spacing">净差错与遗漏</text>
<rect x="261.5" y="397.1" width="4.8" height="5.2" fill="#ff0000"/>
<text x="269.00" y="403.80" font-size="11.50" font-family="'Liberation Serif', 'Noto Serif CJK SC', serif" font-weight="normal" fill="#222222" textLength="80.15" lengthAdjust="spacing">资本与金融账户</text>
<polygon points="263.7,411.7 268.1,416.1 263.7,420.5 259.3,416.1" fill="#ffb14e"/>
<text x="268.90" y="420.10" font-size="11.50" font-family="'Liberation Serif', 'Noto Serif CJK SC', serif" font-weight="normal" fill="#222222" textLength="68.70" lengthAdjust="spacing">外汇储备积累</text>
<g transform="translate(44.0,523.7) rotate(-90)">
<text x="-30.30" y="0.00" font-size="11.00" font-family="'Liberation Serif', 'Noto Serif CJK SC', serif" font-weight="normal" fill="#222222" textLength="11.00" lengthAdjust="spacing">占</text>
<text x="-19.10" y="0.00" font-size="11.00" text-anchor="start" font-family="Liberation Serif, serif" font-weight="normal" fill="#222222" textLength="16.3" lengthAdjust="spacingAndGlyphs">GDP</text>
<text x="-2.80" y="0.00" font-size="11.00" font-family="'Liberation Serif', 'Noto Serif CJK SC', serif" font-weight="normal" fill="#222222" textLength="33.00" lengthAdjust="spacing">百分比</text>
</g>
</g>
<g id="pd">
<rect x="458.90" y="529.60" width="6.20" height="11.95" fill="#f5060b"/>
<rect x="458.90" y="541.55" width="6.20" height="7.06" fill="#165a9b"/>
<rect x="471.26" y="495.39" width="6.20" height="34.21" fill="#f5060b"/>
<rect x="471.26" y="529.60" width="6.20" height="19.00" fill="#165a9b"/>
<rect x="483.62" y="505.71" width="6.20" height="23.89" fill="#f5060b"/>
<rect x="483.62" y="482.63" width="6.20" height="23.08" fill="#165a9b"/>
<rect x="495.98" y="473.40" width="6.20" height="56.20" fill="#f5060b"/>
<rect x="495.98" y="529.60" width="6.20" height="43.17" fill="#165a9b"/>
<rect x="508.34" y="527.43" width="6.20" height="2.17" fill="#f5060b"/>
<rect x="508.34" y="529.60" width="6.20" height="27.96" fill="#165a9b"/>
<rect x="520.70" y="516.02" width="6.20" height="13.57" fill="#f5060b"/>
<rect x="533.06" y="529.60" width="6.20" height="2.17" fill="#f5060b"/>
<rect x="533.06" y="531.77" width="6.20" height="16.02" fill="#165a9b"/>
<rect x="545.42" y="528.79" width="6.20" height="0.81" fill="#f5060b"/>
<rect x="545.42" y="521.73" width="6.20" height="7.06" fill="#165a9b"/>
<rect x="557.78" y="523.36" width="6.20" height="6.24" fill="#f5060b"/>
<rect x="557.78" y="490.50" width="6.20" height="32.85" fill="#165a9b"/>
<rect x="570.14" y="512.77" width="6.20" height="16.83" fill="#f5060b"/>
<rect x="570.14" y="529.60" width="6.20" height="13.57" fill="#165a9b"/>
<rect x="582.50" y="529.60" width="6.20" height="38.82" fill="#f5060b"/>
<rect x="582.50" y="568.42" width="6.20" height="23.35" fill="#165a9b"/>
<rect x="594.86" y="529.60" width="6.20" height="13.30" fill="#f5060b"/>
<rect x="594.86" y="522.81" width="6.20" height="6.79" fill="#165a9b"/>
<rect x="607.22" y="529.60" width="6.20" height="21.45" fill="#f5060b"/>
<rect x="607.22" y="513.58" width="6.20" height="16.02" fill="#165a9b"/>
<rect x="619.58" y="434.03" width="6.20" height="95.57" fill="#165a9b"/>
<rect x="631.94" y="529.60" width="6.20" height="9.50" fill="#f5060b"/>
<rect x="631.94" y="460.37" width="6.20" height="69.23" fill="#165a9b"/>
<rect x="644.30" y="529.60" width="6.20" height="9.23" fill="#f5060b"/>
<rect x="644.30" y="452.22" width="6.20" height="77.38" fill="#165a9b"/>
<rect x="656.66" y="503.26" width="6.20" height="26.34" fill="#f5060b"/>
<rect x="656.66" y="472.59" width="6.20" height="30.68" fill="#165a9b"/>
<rect x="669.02" y="525.53" width="6.20" height="4.07" fill="#f5060b"/>
<rect x="669.02" y="507.61" width="6.20" height="17.92" fill="#165a9b"/>
<rect x="681.38" y="522.27" width="6.20" height="7.33" fill="#f5060b"/>
<rect x="681.38" y="502.45" width="6.20" height="19.82" fill="#165a9b"/>
<rect x="693.74" y="528.24" width="6.20" height="1.36" fill="#f5060b"/>
<rect x="693.74" y="462.00" width="6.20" height="66.25" fill="#165a9b"/>
<rect x="706.10" y="529.60" width="6.20" height="16.02" fill="#f5060b"/>
<rect x="706.10" y="496.21" width="6.20" height="33.39" fill="#165a9b"/>
<rect x="718.46" y="523.63" width="6.20" height="5.97" fill="#f5060b"/>
<rect x="718.46" y="467.43" width="6.20" height="56.20" fill="#165a9b"/>
<rect x="730.82" y="520.91" width="6.20" height="8.69" fill="#f5060b"/>
<rect x="730.82" y="495.12" width="6.20" height="25.79" fill="#165a9b"/>
<rect x="743.18" y="463.08" width="6.20" height="66.52" fill="#f5060b"/>
<rect x="743.18" y="529.60" width="6.20" height="52.67" fill="#165a9b"/>
<rect x="755.54" y="529.60" width="6.20" height="25.25" fill="#f5060b"/>
<rect x="755.54" y="554.85" width="6.20" height="53.49" fill="#165a9b"/>
<line x1="455.5" y1="529.60" x2="765" y2="529.60" stroke="#222" stroke-width="1"/>
<polygon points="462.00,546.84 466.75,551.59 462.00,556.34 457.25,551.59" fill="#ffb14e"/>
<polygon points="474.36,509.65 479.11,514.40 474.36,519.15 469.61,514.40" fill="#ffb14e"/>
<polygon points="486.72,477.88 491.47,482.63 486.72,487.38 481.97,482.63" fill="#ffb14e"/>
<polygon points="499.08,511.27 503.83,516.02 499.08,520.77 494.33,516.02" fill="#ffb14e"/>
<polygon points="511.44,550.91 516.19,555.66 511.44,560.41 506.69,555.66" fill="#ffb14e"/>
<polygon points="523.80,510.46 528.55,515.21 523.80,519.96 519.05,515.21" fill="#ffb14e"/>
<polygon points="536.16,543.31 540.91,548.06 536.16,552.81 531.41,548.06" fill="#ffb14e"/>
<polygon points="548.52,516.98 553.27,521.73 548.52,526.48 543.77,521.73" fill="#ffb14e"/>
<polygon points="560.88,485.75 565.63,490.50 560.88,495.25 556.13,490.50" fill="#ffb14e"/>
<polygon points="573.24,522.13 577.99,526.88 573.24,531.63 568.49,526.88" fill="#ffb14e"/>
<polygon points="585.60,587.84 590.35,592.59 585.60,597.34 580.85,592.59" fill="#ffb14e"/>
<polygon points="597.96,532.18 602.71,536.93 597.96,541.68 593.21,536.93" fill="#ffb14e"/>
<polygon points="610.32,531.09 615.07,535.84 610.32,540.59 605.57,535.84" fill="#ffb14e"/>
<polygon points="622.68,429.28 627.43,434.03 622.68,438.78 617.93,434.03" fill="#ffb14e"/>
<polygon points="635.04,465.12 639.79,469.87 635.04,474.62 630.29,469.87" fill="#ffb14e"/>
<polygon points="647.40,456.43 652.15,461.18 647.40,465.93 642.65,461.18" fill="#ffb14e"/>
<polygon points="659.76,467.84 664.51,472.59 659.76,477.34 655.01,472.59" fill="#ffb14e"/>
<polygon points="672.12,502.86 676.87,507.61 672.12,512.36 667.37,507.61" fill="#ffb14e"/>
<polygon points="684.48,497.70 689.23,502.45 684.48,507.20 679.73,502.45" fill="#ffb14e"/>
<polygon points="696.84,457.25 701.59,462.00 696.84,466.75 692.09,462.00" fill="#ffb14e"/>
<polygon points="709.20,508.02 713.95,512.77 709.20,517.52 704.45,512.77" fill="#ffb14e"/>
<polygon points="721.56,462.68 726.31,467.43 721.56,472.18 716.81,467.43" fill="#ffb14e"/>
<polygon points="733.92,490.37 738.67,495.12 733.92,499.87 729.17,495.12" fill="#ffb14e"/>
<polygon points="746.28,509.92 751.03,514.67 746.28,519.42 741.53,514.67" fill="#ffb14e"/>
<polygon points="758.64,603.86 763.39,608.61 758.64,613.36 753.89,608.61" fill="#ffb14e"/>
<text x="445.80" y="424.90" font-size="11.50" text-anchor="end" font-family="Liberation Serif, serif" font-weight="normal" fill="#222222" >40</text>
<text x="445.80" y="479.20" font-size="11.50" text-anchor="end" font-family="Liberation Serif, serif" font-weight="normal" fill="#222222" >20</text>
<text x="445.80" y="533.50" font-size="11.50" text-anchor="end" font-family="Liberation Serif, serif" font-weight="normal" fill="#222222" >0</text>
<text x="445.80" y="587.80" font-size="11.50" text-anchor="end" font-family="Liberation Serif, serif" font-weight="normal" fill="#222222" >−20</text>
<text x="445.80" y="642.10" font-size="11.50" text-anchor="end" font-family="Liberation Serif, serif" font-weight="normal" fill="#222222" >−40</text>
<text x="462.00" y="653.00" font-size="11.50" text-anchor="middle" font-family="Liberation Serif, serif" font-weight="normal" fill="#222222"  textLength="39.90" lengthAdjust="spacing">2022/10</text>
<text x="536.16" y="653.00" font-size="11.50" text-anchor="middle" font-family="Liberation Serif, serif" font-weight="normal" fill="#222222"  textLength="34.20" lengthAdjust="spacing">2023/4</text>
<text x="610.32" y="653.00" font-size="11.50" text-anchor="middle" font-family="Liberation Serif, serif" font-weight="normal" fill="#222222"  textLength="39.90" lengthAdjust="spacing">2023/10</text>
<text x="684.48" y="653.00" font-size="11.50" text-anchor="middle" font-family="Liberation Serif, serif" font-weight="normal" fill="#222222"  textLength="34.20" lengthAdjust="spacing">2024/4</text>
<text x="758.64" y="653.00" font-size="11.50" text-anchor="middle" font-family="Liberation Serif, serif" font-weight="normal" fill="#222222"  textLength="39.90" lengthAdjust="spacing">2024/10</text>
<rect x="458.7" y="404.6" width="4.8" height="5.4" fill="#f5060b"/>
<text x="465.90" y="411.40" font-size="11.50" font-family="'Liberation Serif', 'Noto Serif CJK SC', serif" font-weight="normal" fill="#222222" textLength="91.60" lengthAdjust="spacing">债券市场资本流入</text>
<rect x="575.0" y="404.6" width="4.8" height="5.4" fill="#165a9b"/>
<text x="582.20" y="411.40" font-size="11.50" font-family="'Liberation Serif', 'Noto Serif CJK SC', serif" font-weight="normal" fill="#222222" textLength="91.60" lengthAdjust="spacing">股票市场资本流入</text>
<polygon points="692.4,403.4 696.2,407.3 692.4,411.2 688.6,407.3" fill="#ffb14e"/>
<text x="696.80" y="411.40" font-size="11.50" font-family="'Liberation Serif', 'Noto Serif CJK SC', serif" font-weight="normal" fill="#222222" textLength="57.25" lengthAdjust="spacing">总资本流入</text>
<g transform="translate(430.30,530.50) rotate(-90)">
<text x="-28.62" y="0.00" font-size="11.50" font-family="'Liberation Serif', 'Noto Serif CJK SC', serif" font-weight="normal" fill="#222222" textLength="57.25" lengthAdjust="spacing">美元，十亿</text>
</g>
</g>
<text x="30.50" y="686.40" font-size="16.50" font-family="'Liberation Serif', 'Noto Serif CJK SC', serif" font-weight="normal" fill="#1a2c63" textLength="411.50" lengthAdjust="spacing">来源：中国海关统计，国家外汇管理局，国际金融协会（</text>
<text x="444.30" y="686.40" font-size="16.50" text-anchor="start" font-family="Liberation Serif, serif" font-weight="normal" fill="#1a2c63" >IIF</text>
<text x="465.50" y="686.40" font-size="16.50" font-family="'Liberation Serif', 'Noto Serif CJK SC', serif" font-weight="normal" fill="#1a2c63" textLength="33.00" lengthAdjust="spacing">），</text>
<text x="498.00" y="686.40" font-size="16.50" text-anchor="start" font-family="Liberation Serif, serif" font-weight="normal" fill="#1a2c63" >Haver</text>
<text x="542.00" y="686.40" font-size="16.50" font-family="'Liberation Serif', 'Noto Serif CJK SC', serif" font-weight="normal" fill="#1a2c63" textLength="65.80" lengthAdjust="spacing">数据库，</text>
<text x="607.00" y="686.40" font-size="16.50" text-anchor="start" font-family="Liberation Serif, serif" font-weight="normal" fill="#1a2c63" >CEIC</text>
<text x="649.50" y="686.40" font-size="16.50" font-family="'Liberation Serif', 'Noto Serif CJK SC', serif" font-weight="normal" fill="#1a2c63" textLength="65.80" lengthAdjust="spacing">数据库，</text>
<text x="716.80" y="686.40" font-size="16.50" font-family="'Liberation Serif', 'Noto Serif CJK SC', serif" font-weight="normal" fill="#1a2c63" textLength="65.80" lengthAdjust="spacing">世界银行</text>
<text x="30.50" y="710.90" font-size="16.50" font-family="'Liberation Serif', 'Noto Serif CJK SC', serif" font-weight="normal" fill="#1a2c63" textLength="115.20" lengthAdjust="spacing">工作人员估算。</text>
<text x="30.50" y="735.30" font-size="16.50" font-family="'Liberation Serif', 'Noto Serif CJK SC', serif" font-weight="normal" fill="#1a2c63" textLength="49.40" lengthAdjust="spacing">注：图</text>
<text x="84.50" y="735.30" font-size="16.50" text-anchor="start" font-family="Liberation Serif, serif" font-weight="normal" fill="#1a2c63" >C</text>
<text x="99.20" y="735.30" font-size="16.50" font-family="'Liberation Serif', 'Noto Serif CJK SC', serif" font-weight="normal" fill="#1a2c63" textLength="132.00" lengthAdjust="spacing">的国际收支平衡表</text>
<text x="236.50" y="735.30" font-size="16.50" text-anchor="start" font-family="Liberation Serif, serif" font-weight="normal" fill="#1a2c63" >2024</text>
<text x="272.00" y="735.30" font-size="16.50" font-family="'Liberation Serif', 'Noto Serif CJK SC', serif" font-weight="normal" fill="#1a2c63" textLength="213.90" lengthAdjust="spacing">年第三季度数据为初步数据。</text>
</svg>
</body></html>
